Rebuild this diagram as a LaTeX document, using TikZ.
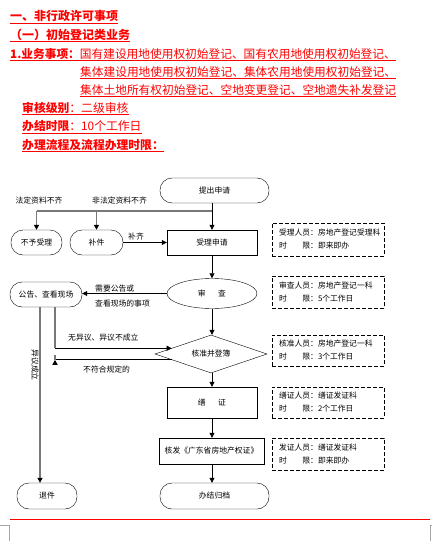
\documentclass[tikz,border=0pt]{standalone}
\usepackage{fontspec}
\setmainfont{Noto Sans CJK SC}
\usetikzlibrary{shapes.geometric,arrows.meta,calc}
\definecolor{linegray}{RGB}{120,120,120}
\newcommand\flowfs{\fontsize{7.8}{13}\selectfont}
\newcommand\bodyfs{\fontsize{11.7}{14}\selectfont}
\newcommand\headfs{\fontsize{11.8}{14}\selectfont}
\begin{document}
\begin{tikzpicture}[x=1pt,y=-1pt,
  hd/.style={anchor=base west, inner sep=0pt, text=red},
  uline/.style={draw=red, line width=0.8pt},
  term/.style={draw, rounded corners=12pt, minimum height=25pt, inner sep=0pt, font=\flowfs},
  proc/.style={draw, rectangle, minimum height=25pt, inner sep=0pt, font=\flowfs},
  note/.style={draw, dashed, dash pattern=on 4pt off 2pt, minimum width=112pt, text width=98pt, align=left, inner sep=0pt, font=\flowfs},
  lab/.style={inner sep=0pt, font=\flowfs},
  arr/.style={-{Triangle[length=5pt,width=5pt]}, line width=0.6pt},
  gline/.style={draw=linegray, line width=1.2pt},
  garr/.style={draw=linegray, line width=1.2pt, -{Triangle[length=5pt,width=5pt,color=black]}}
]
\useasboundingbox (0,0) rectangle (432,548);

% ---- heading text ----
\node[hd, font=\fontsize{12}{14}\selectfont\bfseries] (h1) at (10,21) {一、非行政许可事项};
\draw[uline] ([yshift=-2.2pt]h1.base west) -- ([yshift=-2.2pt]h1.base east);
\node[hd, font=\fontsize{12}{14}\selectfont\bfseries] (h2) at (10,39.5) {（一）初始登记类业务};
\draw[uline] ([yshift=-2.2pt]h2.base west) -- ([yshift=-2.2pt]h2.base east);
\node[hd, font=\bodyfs] (h3) at (10,58.5) {\textbf{1.业务事项：}国有建设用地使用权初始登记、国有农用地使用权初始登记、};
\draw[uline] ([yshift=-2.2pt]h3.base west) -- ([yshift=-2.2pt]h3.base east);
\node[hd, font=\bodyfs] (h4) at (80,76.5) {集体建设用地使用权初始登记、集体农用地使用权初始登记、};
\draw[uline] ([yshift=-2.2pt]h4.base west) -- ([yshift=-2.2pt]h4.base east);
\node[hd, font=\bodyfs] (h5) at (80,94.5) {集体土地所有权初始登记、空地变更登记、空地遗失补发登记};
\draw[uline] ([yshift=-2.2pt]h5.base west) -- ([yshift=-2.2pt]h5.base east);
\node[hd, font=\headfs] (h6) at (22,112.5) {\textbf{审核级别}：二级审核};
\draw[uline] ([yshift=-2.2pt]h6.base west) -- ([yshift=-2.2pt]h6.base east);
\node[hd, font=\headfs] (h7) at (22,131) {\textbf{办结时限}：10个工作日};
\draw[uline] ([yshift=-2.2pt]h7.base west) -- ([yshift=-2.2pt]h7.base east);
\node[hd, font=\headfs\bfseries] (h8) at (22,149.5) {办理流程及流程办理时限：};
\draw[uline] ([yshift=-2.2pt]h8.base west) -- ([yshift=-2.2pt]h8.base east);

% ---- flowchart nodes ----
\node[term, minimum width=109pt] (start) at (214.5,190.5) {提出申请};
\node[proc, minimum width=90pt] (accept) at (212,242.5) {受理申请};
\node[term, minimum width=51pt] (reject) at (36.5,242.5) {不予受理};
\node[term, minimum width=53pt] (supp) at (96.5,242.5) {补件};
\node[draw, ellipse, minimum width=90pt, minimum height=30pt, inner sep=0pt, font=\flowfs] (review) at (212,293.5) {审\hspace{1.6em}查};
\node[term, minimum width=72pt] (notice) at (46,294.5) {公告、查看现场};
\node[draw, diamond, aspect=3, minimum width=112pt, minimum height=38pt, inner sep=0pt, font=\flowfs] (approve) at (211,354) {核准并登簿};
\node[proc, minimum width=90pt, minimum height=31pt] (seal) at (212,402.5) {缮\hspace{1.6em}证};
\node[proc, minimum width=105pt, minimum height=26pt] (issue) at (211.5,451) {核发《广东省房地产权证》};
\node[term, minimum width=109pt, minimum height=26pt] (archive) at (214.5,496) {办结归档};
\node[term, minimum width=60pt, minimum height=26pt] (ret) at (47,496) {退件};

% ---- dashed notes ----
\node[note, minimum height=33pt] (n1) at (328,239.5) {受理人员：房地产登记受理科\\时\hspace{2em}限：即来即办};
\node[note, minimum height=32pt] (n2) at (328,292) {审查人员：房地产登记一科\\时\hspace{2em}限：5个工作日};
\node[note, minimum height=31pt] (n3) at (328,350.5) {核准人员：房地产登记一科\\时\hspace{2em}限：3个工作日};
\node[note, minimum height=31pt] (n4) at (328,402.5) {缮证人员：缮证发证科\\时\hspace{2em}限：2个工作日};
\node[note, minimum height=32pt] (n5) at (328,454) {发证人员：缮证发证科\\时\hspace{2em}限：即来即办};

% ---- labels ----
\node[lab] (l1) at (39,201) {法定资料不齐};
\node[lab] (l2) at (119.5,201) {非法定资料不齐};
\node[lab] (l3) at (136,237) {补齐};
\node[lab, anchor=west] (l4) at (95,288.5) {需要公告或};
\node[lab, anchor=west] (l5) at (95,303.5) {查看现场的事项};
\node[lab, anchor=west] (l6) at (68,337.5) {无异议、异议不成立};
\node[lab, anchor=west] (l7) at (83,369.5) {不符合规定的};
\node[lab, rotate=-90] (l8) at (35,365) {异议成立};

% ---- connectors ----
\coordinate (junc) at (accept.north |- 0,211);
\draw[arr] (accept.north |- start.south) -- (accept.north);
\draw[gline] (junc) -- (junc -| reject.north);
\draw[garr] (junc -| reject.north) -- (reject.north);
\draw[garr] (junc -| supp.north) -- (supp.north);
\draw[arr] (supp.east) -- (supp.east -| accept.west);
\draw[arr] (accept.south) -- (review.north);
\draw[arr] (review.west) -- (review.west -| notice.east);
\draw[arr] (review.south) -- (review.south |- approve.north);
\draw[arr] (seal.north |- approve.south) -- (seal.north);
\draw[arr] (seal.south) -- (seal.south |- issue.north);
\draw[arr] (seal.south |- issue.south) -- (seal.south |- archive.north);

\coordinate (ein) at ($(approve.west)!0.3!(approve.north)$);
\coordinate (eout) at ($(approve.west)!0.3!(approve.south)$);
\coordinate (vin) at ($(notice.south)+(9,0)$);
\coordinate (vl) at ($(notice.south)+(-6,0)$);
\draw[gline] (vin) -- (vin |- ein);
\draw[arr] (vin |- ein) -- (ein);
\draw[line width=0.6pt] (eout) -- (eout -| vin);
\draw[garr] (eout -| vin) -- (eout -| vin |- ret.north);
\draw[garr] (vl) -- (vl |- ret.north);

% ---- page rule and marks ----
\coordinate (rl) at (10,519);
\coordinate (rr) at (430,519);
\draw[red, line width=0.8pt] (rl) -- (rr);
\draw[gray!70, line width=0.6pt] (0,525) -- (9,525) -- (9,541);
\draw[gray!70, line width=0.6pt] (432,525) -- (430,525) -- (430,541);
\end{tikzpicture}
\end{document}
